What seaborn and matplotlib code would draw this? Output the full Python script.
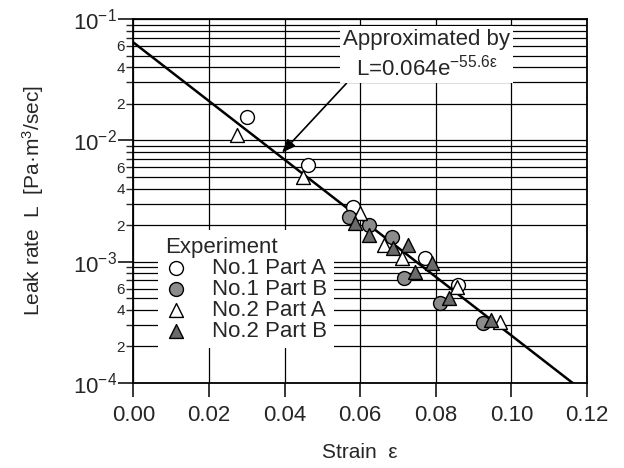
import numpy as np
import pandas as pd
import matplotlib
matplotlib.use("Agg")
import matplotlib.pyplot as plt
from matplotlib.ticker import LogLocator, FuncFormatter
import seaborn as sns

# ---------------- data ----------------
no1a_strain = [0.0301, 0.0462, 0.0581, 0.0772, 0.0860]
no1a_leak = [0.0156, 0.00625, 0.00282, 0.00107, 0.00064]

no1b_strain = [0.0569, 0.0622, 0.0685, 0.0717, 0.0812, 0.0926]
no1b_leak = [0.00233, 0.00200, 0.00160, 0.00073, 0.00046, 0.00031]

no2a_strain = [0.0274, 0.0449, 0.0600, 0.0664, 0.0711, 0.0855, 0.0971]
no2a_leak = [0.0111, 0.00498, 0.00251, 0.00137, 0.00107, 0.00062, 0.00032]

no2b_strain = [0.0587, 0.0624, 0.0688, 0.0727, 0.0790, 0.0745, 0.0834, 0.0947]
no2b_leak = [0.00209, 0.00166, 0.00129, 0.00137, 0.00098, 0.00082, 0.00050, 0.00033]

series_names = ["No.1 Part A", "No.1 Part B", "No.2 Part A", "No.2 Part B"]

FIT_A = 0.064
FIT_B = 55.6
x_ticks = [0.00, 0.02, 0.04, 0.06, 0.08, 0.10, 0.12]

# ---------------- style ----------------
sns.set_style("ticks")
plt.rcParams["font.family"] = ["Liberation Sans", "DejaVu Sans"]
plt.rcParams["mathtext.fontset"] = "custom"
plt.rcParams["mathtext.rm"] = "Liberation Sans"
plt.rcParams["mathtext.it"] = "Liberation Sans"
plt.rcParams["mathtext.bf"] = "Liberation Sans:bold"

fig = plt.figure(figsize=(6.24, 4.68), dpi=100)
ax = fig.add_axes([0.2139, 0.1816, 0.7268, 0.7778])

df = pd.concat([
    pd.DataFrame({"strain": no1a_strain, "leak": no1a_leak, "series": series_names[0]}),
    pd.DataFrame({"strain": no1b_strain, "leak": no1b_leak, "series": series_names[1]}),
    pd.DataFrame({"strain": no2a_strain, "leak": no2a_leak, "series": series_names[2]}),
    pd.DataFrame({"strain": no2b_strain, "leak": no2b_leak, "series": series_names[3]}),
])

# fit line
eps_end = np.log(FIT_A / 1e-4) / FIT_B
eps = np.linspace(0, eps_end, 200)
fit = pd.DataFrame({"strain": eps, "leak": FIT_A * np.exp(-FIT_B * eps)})
sns.lineplot(data=fit, x="strain", y="leak", ax=ax, color="black", lw=1.8, zorder=3, legend=False)

styles = {
    "No.1 Part A": dict(marker="o", facecolor="white"),
    "No.1 Part B": dict(marker="o", facecolor="#8c8c8c"),
    "No.2 Part A": dict(marker="^", facecolor="white"),
    "No.2 Part B": dict(marker="^", facecolor="#6a6a6a"),
}
for name in series_names:
    sub = df[df["series"] == name]
    st = styles[name]
    sns.scatterplot(data=sub, x="strain", y="leak", ax=ax, marker=st["marker"],
                    color=st["facecolor"], edgecolor="black", linewidth=1.0,
                    s=100, label=name, zorder=4)

ax.set_yscale("log")
ax.set_xlim(0, 0.12)
ax.set_ylim(1e-4, 1e-1)

ax.set_xticks(x_ticks)
ax.xaxis.set_major_formatter(FuncFormatter(lambda v, p: f"{v:.2f}"))

ax.yaxis.set_major_locator(LogLocator(base=10, numticks=10))
ax.yaxis.set_minor_locator(LogLocator(base=10, subs=np.arange(2, 10), numticks=20))
ax.yaxis.set_major_formatter(FuncFormatter(lambda v, p: f"$10^{{{int(round(np.log10(v)))}}}$"))


def minor_fmt(v, p):
    m = v / 10 ** np.floor(np.log10(v) + 1e-9)
    r = int(round(m))
    return str(r) if r in (2, 4, 6) else ""


ax.yaxis.set_minor_formatter(FuncFormatter(minor_fmt))

ax.tick_params(axis="x", which="major", direction="out", length=10, width=1.3, labelsize=16, pad=6)
ax.tick_params(axis="y", which="major", direction="out", length=11, width=1.3, labelsize=16, pad=1)
ax.tick_params(axis="y", which="minor", direction="out", length=5, width=1.0, labelsize=11, pad=1)

ax.grid(which="major", axis="x", color="black", lw=0.9)
ax.grid(which="both", axis="y", color="black", lw=0.9)
ax.set_axisbelow(True)
for sp in ax.spines.values():
    sp.set_linewidth(1.3)
    sp.set_color("black")

ax.set_xlabel("Strain  ε", fontsize=15, labelpad=12)
ax.set_ylabel("Leak rate  L  [Pa·m$^3$/sec]", fontsize=15, labelpad=19)

leg = ax.legend(title="Experiment", loc="upper left", bbox_to_anchor=(0.055, 0.42),
                borderaxespad=0, frameon=True, fancybox=False, framealpha=1,
                facecolor="white", edgecolor="none", fontsize=16, title_fontsize=16,
                handlelength=1.0, handletextpad=1.1, labelspacing=0.0, borderpad=0.3,
                alignment="left")
leg.set_zorder(5)

ann_x = (0.0393, FIT_A * np.exp(-FIT_B * 0.0393) * 1.1)
ax.annotate("Approximated by\nL=0.064e$^{-55.6ε}$", xy=ann_x, xytext=(0.0775, 0.051),
            textcoords="data", ha="center", va="center", multialignment="center",
            fontsize=16, zorder=6,
            bbox=dict(boxstyle="square,pad=0.15", fc="white", ec="none"),
            arrowprops=dict(arrowstyle="-|>,head_length=0.5,head_width=0.2", color="black",
                            lw=1.2, relpos=(0.04, 0.0), shrinkA=0, shrinkB=0))

fig.savefig("out.png", dpi=100)
